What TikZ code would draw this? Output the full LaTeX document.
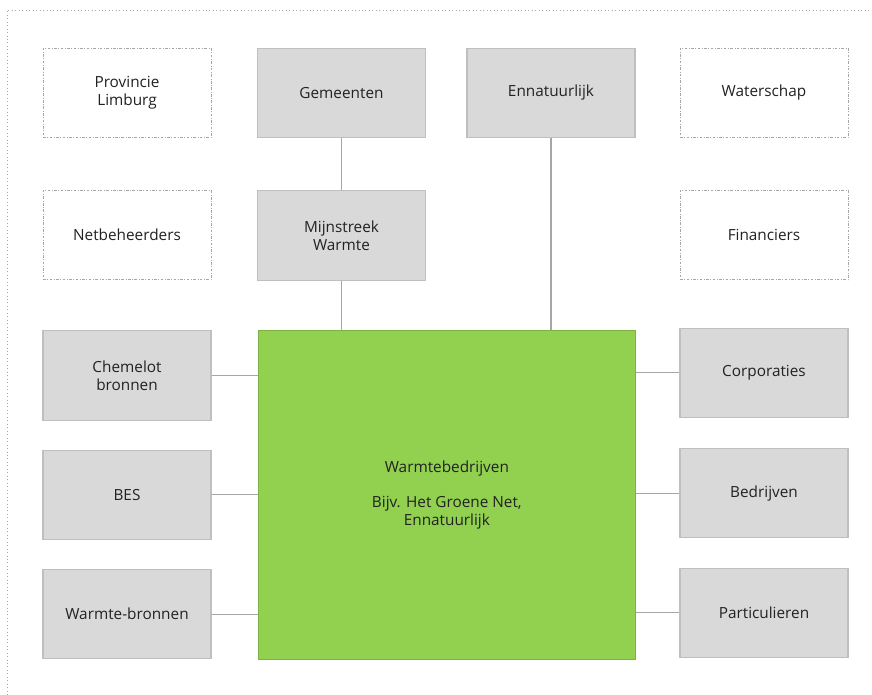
\documentclass[tikz,border=0pt]{standalone}
\usepackage{fontspec}
\setmainfont{Open Sans}
\usetikzlibrary{positioning}
\definecolor{boxgray}{HTML}{D9D9D9}
\definecolor{edgegray}{HTML}{BFBFBF}
\definecolor{linegray}{HTML}{A6A6A6}
\definecolor{warmgreen}{HTML}{92D050}
\definecolor{textdark}{HTML}{222222}

\begin{document}
\begin{tikzpicture}[x=0.75pt, y=-0.75pt, font=\fontsize{11.5}{13.3}\selectfont, text=textdark,
    node/.style={rectangle, draw=edgegray, fill=boxgray, line width=0.8pt, minimum width=126pt, minimum height=67pt, align=center, inner sep=2pt},
    openbox/.style={rectangle, draw=linegray, fill=white, line width=0.6pt, dash pattern=on 2pt off 1.2pt on 0.5pt off 1.2pt, minimum width=126pt, minimum height=67pt, align=center, inner sep=2pt},
    bignode/.style={rectangle, draw=warmgreen!85!black, fill=warmgreen, line width=0.6pt, minimum width=282.75pt, minimum height=247pt, align=center},
    link/.style={draw=linegray, line width=0.8pt}]

    \useasboundingbox (0,0) rectangle (872,695);
    \draw[linegray, line width=0.6pt, dotted] (7,695) -- (7,10) -- (872,10);

    %Nodes
    \node[openbox](provincie) at (127,93){Provincie\\Limburg};
    \node[node](gemeenten) at (341.5,93){Gemeenten};
    \node[node](ennatuurlijk) at (551,93){Ennatuurlijk};
    \node[openbox](waterschap) at (764,93){Waterschap};
    \node[openbox](netbeheerders)[below=39pt of provincie]{Netbeheerders};
    \node[node](mijnstreek)[below=39pt of gemeenten]{Mijnstreek\\Warmte};
    \node[openbox](financiers)[below=39pt of waterschap]{Financiers};
    \node[bignode](warmte)[below right=37pt and 0.75pt of mijnstreek.south west]{Warmtebedrijven\\[13pt]Bijv. Het Groene Net,\\Ennatuurlijk};
    \node[node](chemelot)[below=37.5pt of netbeheerders]{Chemelot\\bronnen};
    \node[node](bes)[below=21.75pt of chemelot]{BES};
    \node[node](bronnen)[below=21.75pt of bes]{Warmte-bronnen};
    \node[node](corporaties)[below=35.5pt of financiers]{Corporaties};
    \node[node](bedrijven)[below=22.5pt of corporaties]{Bedrijven};
    \node[node](particulieren)[below=22pt of bedrijven]{Particulieren};

    %Lines
    \draw[link] (gemeenten.south) -- (mijnstreek.north);
    \draw[link] (mijnstreek.south) -- (mijnstreek.south |- warmte.north);
    \draw[link] (ennatuurlijk.south) -- (ennatuurlijk.south |- warmte.north);
    \draw[link] (chemelot.east) -- (chemelot.east -| warmte.west);
    \draw[link] (bes.east) -- (bes.east -| warmte.west);
    \draw[link] (bronnen.east) -- (bronnen.east -| warmte.west);
    \draw[link] (corporaties.west) -- (corporaties.west -| warmte.east);
    \draw[link] (bedrijven.west) -- (bedrijven.west -| warmte.east);
    \draw[link] (particulieren.west) -- (particulieren.west -| warmte.east);

\end{tikzpicture}
\end{document}
